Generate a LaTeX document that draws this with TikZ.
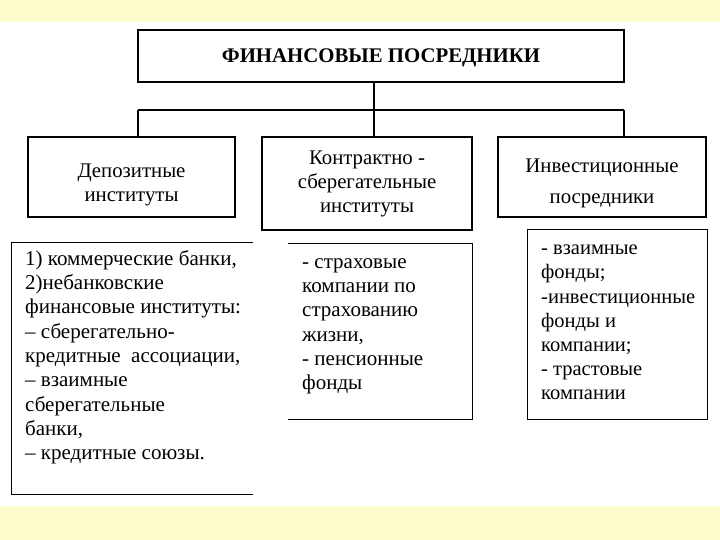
\documentclass[tikz,border=0pt]{standalone}
\usepackage{fontspec}
\setmainfont{Liberation Serif}
\usetikzlibrary{positioning}
\definecolor{slideYellow}{HTML}{FCFDCB}

\begin{document}
\begin{tikzpicture}[
  x=1pt, y=-1pt,
  font=\fontsize{20.8}{24}\selectfont,
  headbox/.style={draw=black, line width=1.2pt, minimum width=486pt, minimum height=52pt, text depth=0pt, font=\fontsize{20.8}{24}\selectfont\bfseries},
  groupbox/.style={draw=black, line width=1.2pt, align=center, inner sep=0pt},
  listbox/.style={inner sep=0pt},
  listtext/.style={anchor=north west, align=left, inner sep=0pt, font=\fontsize{21}{24.3}\selectfont},
  link/.style={line width=1.2pt}
]
\useasboundingbox (0,0) rectangle (720,540);
% slide background
\fill[slideYellow] (0,0) rectangle (720,22);
\fill[slideYellow] (0,506) rectangle (720,540);

\node[headbox] (fin) at (381,56) {ФИНАНСОВЫЕ ПОСРЕДНИКИ};

\node[groupbox, minimum width=207pt, minimum height=80pt] (dep) at (131.5,177) {\rule{0pt}{28.5pt}Депозитные\\институты};
\node[groupbox, minimum width=210pt, minimum height=93pt] (con) at (367,183.5) {Контрактно -\\сберегательные\\институты};
\node[groupbox, minimum width=208pt, minimum height=80pt] (inv) at (602,177) {\rule{0pt}{25.5pt}Инвестиционные\\[7pt]посредники};

\coordinate (hub) at (374,110);
\coordinate (barL) at (138,110);
\coordinate (barR) at (624,110);
\draw[link] (fin.south -| hub) -- (hub);
\draw[link] (barL) -- (barR);
\draw[link] (barL) -- (barL |- dep.north);
\draw[link] (hub) -- (hub |- con.north);
\draw[link] (barR) -- (barR |- inv.north);

% lists under the groups
\node[listbox, minimum width=241pt, minimum height=251pt] (depList) at (132.5,368.5) {};
\node[listbox, minimum width=184pt, minimum height=175pt] (conList) at (380,331.5) {};
\node[listbox, minimum width=179pt, minimum height=189pt] (invList) at (617.5,324.5) {};
\draw[link] (depList.north east) -- (depList.north west) -- (depList.south west) -- (depList.south east);
\draw[link] (conList.north west) -- (conList.north east) -- (conList.south east) -- (conList.south west);
\draw[link] (invList.north west) rectangle (invList.south east);

\node[listtext] (depText) at (25,248) {\strut 1) коммерческие банки,\\2)небанковские\\финансовые институты:\\– сберегательно-\\кредитные\ \ ассоциации,\\– взаимные\\сберегательные\\банки,\\– кредитные союзы.};
\node[listtext] (conText) at (302,251) {\strut - страховые\\компании по\\страхованию\\жизни,\\- пенсионные\\фонды};
\node[listtext, font=\fontsize{20.5}{24.2}\selectfont] (invText) at (541,237.5) {\strut - взаимные\\фонды;\\-инвестиционные\\фонды и\\компании;\\- трастовые\\компании};
\end{tikzpicture}
\end{document}
